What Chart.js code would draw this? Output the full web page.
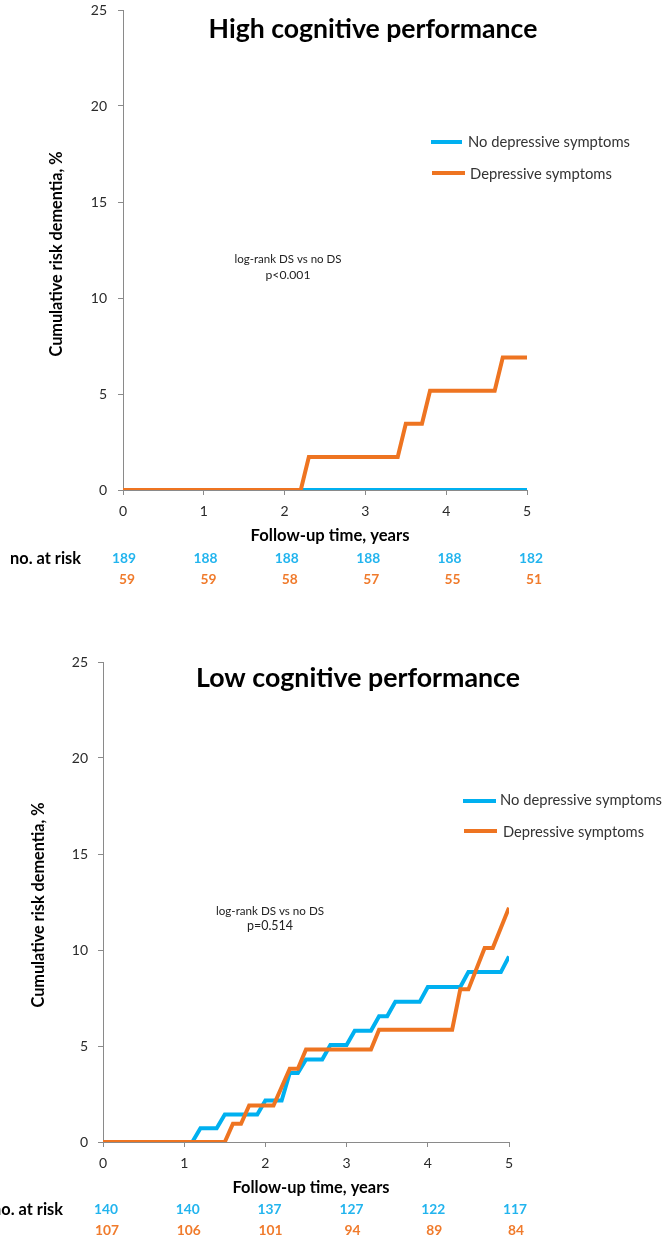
<!DOCTYPE html>
<html>
<head>
<meta charset="utf-8">
<script src="https://cdn.jsdelivr.net/npm/chart.js@4.4.1/dist/chart.umd.min.js"></script>
<style>
  html, body { margin: 0; padding: 0; background: #fff; width: 664px; height: 1242px; overflow: hidden; }
  .panel { position: absolute; left: 0; width: 664px; height: 621px; }
  #panelHigh { top: 0; }
  #panelLow { top: 621px; }
</style>
</head>
<body>
<div class="panel" id="panelHigh"><canvas id="chartHigh" width="664" height="621"></canvas></div>
<div class="panel" id="panelLow"><canvas id="chartLow" width="664" height="621"></canvas></div>
<script>
// ---- shared axis ticks and labels ----
const yearTicks = [0, 1, 2, 3, 4, 5];
const riskTicks = [0, 5, 10, 15, 20, 25];
const seriesNames = ['No depressive symptoms', 'Depressive symptoms'];

// ---- High cognitive performance: cumulative risk (%) at follow-up time (years) ----
const highNoDsTime = [0, 5];
const highNoDsRisk = [0, 0];
const highDsTime = [0, 2.2, 2.3, 3.4, 3.5, 3.7, 3.8, 4.6, 4.7, 5.0];
const highDsRisk = [0, 0, 1.72, 1.72, 3.45, 3.45, 5.17, 5.17, 6.9, 6.9];
const highAtRiskNoDs = [189, 188, 188, 188, 188, 182];
const highAtRiskDs = [59, 59, 58, 57, 55, 51];

// ---- Low cognitive performance ----
const lowNoDsTime = [0, 1.1, 1.2, 1.4, 1.5, 1.9, 2.0, 2.2, 2.3, 2.4, 2.5, 2.7, 2.8, 3.0, 3.1, 3.3, 3.4, 3.5, 3.6, 3.9, 4.0, 4.4, 4.5, 4.9, 5.0];
const lowNoDsRisk = [0, 0, 0.72, 0.72, 1.43, 1.43, 2.16, 2.16, 3.6, 3.6, 4.3, 4.3, 5.05, 5.05, 5.79, 5.79, 6.55, 6.55, 7.3, 7.3, 8.07, 8.07, 8.85, 8.85, 9.66];
const lowDsTime = [0, 1.5, 1.6, 1.7, 1.8, 2.1, 2.3, 2.4, 2.5, 3.3, 3.4, 4.3, 4.4, 4.5, 4.7, 4.8, 5.0];
const lowDsRisk = [0, 0, 0.95, 0.95, 1.9, 1.9, 3.82, 3.82, 4.82, 4.82, 5.85, 5.85, 7.95, 7.95, 10.1, 10.1, 12.2];
const lowAtRiskNoDs = [140, 140, 137, 127, 122, 117];
const lowAtRiskDs = [107, 106, 101, 94, 89, 84];

// ---- styling ----
const FAMILY = 'Lato, "Open Sans", sans-serif';
const BLUE = '#00B0F0';
const ORANGE = '#EE7421';
const BLUE_TEXT = '#22B4EE';
const ORANGE_TEXT = '#F07B2C';
const AXIS = '#8A8A8A';
const TEXT = '#2A2A2A';

// font size (px) that makes `text` span `width` pixels
function fitSize(ctx, text, weight, width) {
  ctx.font = weight + ' 100px ' + FAMILY;
  return 100 * width / ctx.measureText(text).width;
}

function drawFitted(ctx, text, weight, width, x, y, align, color) {
  const size = fitSize(ctx, text, weight, width);
  ctx.font = weight + ' ' + size.toFixed(2) + 'px ' + FAMILY;
  ctx.textAlign = align;
  ctx.textBaseline = 'middle';
  ctx.fillStyle = color;
  ctx.fillText(text, x, y);
}

function points(times, values) {
  return times.map((t, i) => ({ x: t, y: values[i] }));
}

// Draws title, axis titles, legend, test note and numbers-at-risk table
function panelText(p) {
  return {
    id: 'panelText',
    afterDraw(chart) {
      const ctx = chart.ctx;
      const xs = chart.scales.x;
      const L = p.layout;
      ctx.save();

      drawFitted(ctx, p.title, 'bold', L.title.w, L.title.x, L.title.y, 'center', '#000');
      drawFitted(ctx, 'Follow-up time, years', 'bold', L.xTitle.w, L.xTitle.x, L.xTitle.y, 'center', '#000');

      ctx.save();
      ctx.translate(L.yTitle.x, L.yTitle.y);
      ctx.rotate(-Math.PI / 2);
      drawFitted(ctx, 'Cumulative risk dementia, %', 'bold', L.yTitle.w, 0, 0, 'center', '#000');
      ctx.restore();

      // legend
      const colors = [BLUE, ORANGE];
      L.legend.forEach((item, i) => {
        ctx.strokeStyle = colors[i];
        ctx.lineWidth = 4;
        ctx.lineCap = 'butt';
        ctx.beginPath();
        ctx.moveTo(item.x0, item.ly);
        ctx.lineTo(item.x1, item.ly);
        ctx.stroke();
        drawFitted(ctx, seriesNames[i], 'normal', item.w, item.tx, item.ty, 'left', '#333');
      });

      // log-rank note
      drawFitted(ctx, 'log-rank DS vs no DS', 'normal', L.note.w, L.note.x, L.note.y1, 'center', '#222');
      drawFitted(ctx, p.pText, 'normal', L.note.pw, L.note.x, L.note.y2, 'center', '#222');

      // numbers at risk
      drawFitted(ctx, 'no. at risk', 'bold', 71, L.risk.labelRight, L.risk.y1, 'right', '#000');
      const numSize = fitSize(ctx, '188', 'bold', 24);
      ctx.font = 'bold ' + numSize.toFixed(2) + 'px ' + FAMILY;
      ctx.textAlign = 'center';
      ctx.textBaseline = 'middle';
      yearTicks.forEach((t, i) => {
        const px = xs.getPixelForValue(t);
        ctx.fillStyle = BLUE_TEXT;
        ctx.fillText(String(p.atRiskNoDs[i]), px + L.risk.shift1 + i * 0.6, L.risk.y1);
        ctx.fillStyle = ORANGE_TEXT;
        ctx.fillText(String(p.atRiskDs[i]), px + L.risk.shift2 + i * 0.6, L.risk.y2);
      });

      ctx.restore();
    }
  };
}

function buildChart(canvas, p) {
  const A = p.area;
  return new Chart(canvas, {
    type: 'scatter',
    data: {
      datasets: [
        {
          label: seriesNames[0],
          data: points(p.noDsTime, p.noDsRisk),
          showLine: true, borderColor: BLUE, backgroundColor: BLUE,
          borderWidth: 4, pointRadius: 0, tension: 0, order: 1
        },
        {
          label: seriesNames[1],
          data: points(p.dsTime, p.dsRisk),
          showLine: true, borderColor: ORANGE, backgroundColor: ORANGE,
          borderWidth: 4, pointRadius: 0, tension: 0, order: 0
        }
      ]
    },
    options: {
      responsive: false,
      animation: false,
      devicePixelRatio: 1,
      layout: { padding: { left: 0, top: A.top, right: 664 - A.right, bottom: 0 } },
      plugins: { legend: { display: false }, tooltip: { enabled: false }, title: { display: false } },
      scales: {
        x: {
          type: 'linear', min: 0, max: 5,
          afterBuildTicks: s => { s.ticks = yearTicks.map(v => ({ value: v })); },
          afterFit: s => { s.height = 621 - A.bottom; s.paddingLeft = 0; s.paddingRight = 0; },
          grid: { drawOnChartArea: false, drawTicks: true, tickLength: 5, color: AXIS },
          border: { color: AXIS, width: 1 },
          ticks: { padding: 8, color: TEXT, font: { family: FAMILY, size: 14 } }
        },
        y: {
          type: 'linear', min: 0, max: 25,
          afterBuildTicks: s => { s.ticks = riskTicks.map(v => ({ value: v })); },
          afterFit: s => { s.width = A.left; s.paddingTop = 0; s.paddingBottom = 0; },
          grid: { drawOnChartArea: false, drawTicks: true, tickLength: 5, color: AXIS },
          border: { color: AXIS, width: 1 },
          ticks: { padding: p.yPad, color: TEXT, font: { family: FAMILY, size: 14 } }
        }
      }
    },
    plugins: [panelText(p)]
  });
}

buildChart(document.getElementById('chartHigh'), {
  title: 'High cognitive performance',
  pText: 'p<0.001',
  noDsTime: highNoDsTime, noDsRisk: highNoDsRisk,
  dsTime: highDsTime, dsRisk: highDsRisk,
  atRiskNoDs: highAtRiskNoDs, atRiskDs: highAtRiskDs,
  area: { left: 123, right: 527, top: 10, bottom: 490 },
  yPad: 11,
  layout: {
    title: { x: 373, y: 29, w: 329 },
    xTitle: { x: 330, y: 536, w: 159 },
    yTitle: { x: 57, y: 254, w: 205 },
    legend: [
      { x0: 431, x1: 462, ly: 142, tx: 468, ty: 142, w: 162 },
      { x0: 432, x1: 465, ly: 173, tx: 470, ty: 174, w: 142 }
    ],
    note: { x: 288, y1: 259, y2: 275, w: 107, pw: 45 },
    risk: { labelRight: 81, y1: 559, y2: 580, shift1: 1, shift2: 4 }
  }
});

buildChart(document.getElementById('chartLow'), {
  title: 'Low cognitive performance',
  pText: 'p=0.514',
  noDsTime: lowNoDsTime, noDsRisk: lowNoDsRisk,
  dsTime: lowDsTime, dsRisk: lowDsRisk,
  atRiskNoDs: lowAtRiskNoDs, atRiskDs: lowAtRiskDs,
  area: { left: 103, right: 509, top: 41, bottom: 521 },
  yPad: 10,
  layout: {
    title: { x: 358, y: 57, w: 324 },
    xTitle: { x: 311, y: 567, w: 157 },
    yTitle: { x: 39, y: 284, w: 205 },
    legend: [
      { x0: 463, x1: 496, ly: 180, tx: 500, ty: 179, w: 162 },
      { x0: 464, x1: 497, ly: 210, tx: 503, ty: 211, w: 141 }
    ],
    note: { x: 270, y1: 290, y2: 305, w: 108, pw: 46 },
    risk: { labelRight: 63, y1: 589, y2: 610, shift1: 3, shift2: 4 }
  }
});
</script>
</body>
</html>
